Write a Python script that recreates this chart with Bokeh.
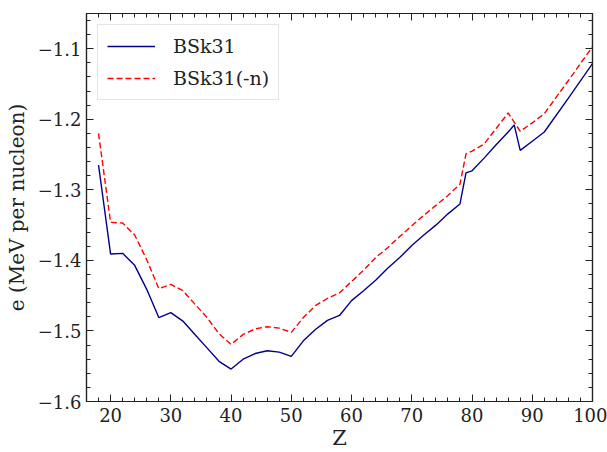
from bokeh.plotting import figure
from bokeh.models import (LinearAxis, Range1d, Legend, LegendItem,
                          CustomJSTickFormatter, SingleIntervalTicker, ColumnDataSource)
from bokeh.embed import file_html
from bokeh.resources import INLINE

# ---- data ----
Z = [18, 20, 22, 24, 26, 28, 30, 32, 34, 36, 38, 40, 42, 44, 46, 48, 50,
     52, 54, 56, 58, 60, 62, 64, 66, 68, 70, 72, 74, 76, 78, 79, 80, 82,
     84, 86, 87, 88, 90, 92, 96, 100]
e_bsk31 = [-1.265, -1.391, -1.390, -1.407, -1.441, -1.481, -1.474, -1.486,
           -1.505, -1.524, -1.543, -1.554, -1.540, -1.532, -1.528, -1.530,
           -1.536, -1.514, -1.498, -1.485, -1.478, -1.457, -1.443, -1.428,
           -1.411, -1.396, -1.379, -1.364, -1.350, -1.334, -1.320, -1.276,
           -1.273, -1.255, -1.236, -1.218, -1.208, -1.244, -1.231, -1.218,
           -1.170, -1.121]
e_bsk31n = [-1.220, -1.346, -1.347, -1.364, -1.399, -1.440, -1.434, -1.443,
            -1.462, -1.481, -1.504, -1.519, -1.505, -1.497, -1.494, -1.496,
            -1.502, -1.481, -1.464, -1.454, -1.446, -1.430, -1.414, -1.396,
            -1.382, -1.366, -1.351, -1.336, -1.322, -1.308, -1.292, -1.249,
            -1.245, -1.235, -1.213, -1.191, -1.204, -1.217, -1.205, -1.192,
            -1.145, -1.097]
series_labels = ["BSk31", "BSk31(-n)"]
x_label = "Z"
y_label = "e (MeV per nucleon)"
x_range = (16, 100)
y_range = (-1.6, -1.05)

FONT = "DejaVu Serif"
AXIS_COLOR = "#222222"

src = ColumnDataSource(dict(Z=Z, a=e_bsk31, b=e_bsk31n))

p = figure(width=607, height=452, output_backend="svg", toolbar_location=None,
           x_range=Range1d(*x_range), y_range=Range1d(*y_range),
           min_border_left=86, min_border_right=15, min_border_top=13,
           min_border_bottom=47, x_axis_location=None, y_axis_location=None)
p.background_fill_color = "white"
p.border_fill_color = "white"
p.outline_line_color = AXIS_COLOR
p.outline_line_width = 1.2
p.xgrid.visible = False
p.ygrid.visible = False

yfmt = CustomJSTickFormatter(code="""
    const s = Math.abs(tick).toFixed(1);
    return (tick < -1e-9 ? '\u2212' : '') + s;
""")
xfmt = CustomJSTickFormatter(code="return Math.round(tick).toString();")
blank = CustomJSTickFormatter(code="return '';")


def style_axis(ax, show_labels, font):
    ax.axis_line_color = AXIS_COLOR
    ax.axis_line_width = 1.2
    ax.major_tick_line_color = AXIS_COLOR
    ax.minor_tick_line_color = AXIS_COLOR
    ax.major_tick_line_width = 1.0
    ax.minor_tick_line_width = 1.0
    ax.major_tick_in = 7
    ax.major_tick_out = 0
    ax.minor_tick_in = 4
    ax.minor_tick_out = 0
    ax.major_label_text_font = font
    ax.major_label_text_color = "#222222"
    if show_labels:
        ax.major_label_text_font_size = "18px"
    else:
        ax.major_label_text_font_size = "0px"
        ax.major_label_standoff = 0


xt = lambda: SingleIntervalTicker(interval=10, num_minor_ticks=5)
yt = lambda: SingleIntervalTicker(interval=0.1, num_minor_ticks=5)

bottom = LinearAxis(ticker=xt(), formatter=xfmt, axis_label=x_label)
style_axis(bottom, True, FONT)
bottom.major_label_standoff = 6
bottom.axis_label_text_font = FONT
bottom.axis_label_text_font_size = "21px"
bottom.axis_label_text_font_style = "normal"
bottom.axis_label_text_color = "#222222"
bottom.axis_label_standoff = 1
p.add_layout(bottom, "below")

left = LinearAxis(ticker=yt(), formatter=yfmt, axis_label=y_label)
style_axis(left, True, FONT)
left.major_label_standoff = 5
left.axis_label_text_font = FONT
left.axis_label_text_font_size = "20px"
left.axis_label_text_font_style = "normal"
left.axis_label_text_color = "#222222"
left.axis_label_standoff = 6
p.add_layout(left, "left")

top = LinearAxis(ticker=xt(), formatter=blank)
style_axis(top, False, FONT)
p.add_layout(top, "above")

right = LinearAxis(ticker=yt(), formatter=blank)
style_axis(right, False, FONT)
p.add_layout(right, "right")

r1 = p.line("Z", "a", source=src, line_color="#00008b", line_width=1.4)
r2 = p.line("Z", "b", source=src, line_color="#ff0000", line_width=1.4,
            line_dash="6 3")

legend = Legend(items=[LegendItem(label=series_labels[0], renderers=[r1]),
                       LegendItem(label=series_labels[1], renderers=[r2])],
                location="top_left")
legend.margin = 11
legend.padding = 9
legend.spacing = 8
legend.glyph_width = 48
legend.glyph_height = 24
legend.label_height = 24
legend.label_standoff = 18
legend.label_text_font = FONT
legend.label_text_font_size = "19px"
legend.label_text_color = "#222222"
legend.border_line_color = "#cccccc"
legend.border_line_width = 1
legend.background_fill_color = "white"
legend.background_fill_alpha = 0.8
p.add_layout(legend, "center")

open("out.html", "w").write(file_html(p, INLINE))
